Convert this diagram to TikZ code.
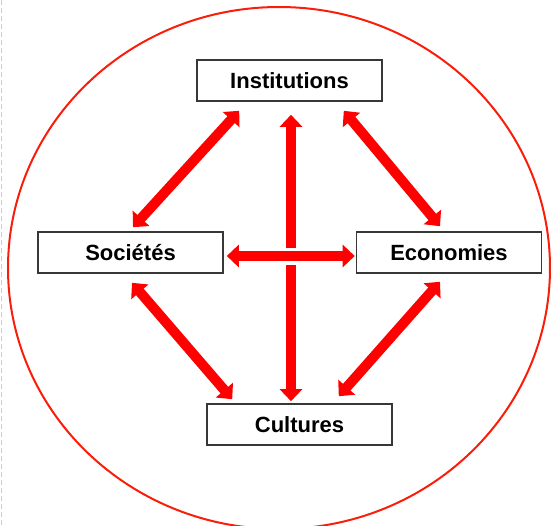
\documentclass[tikz,border=0pt]{standalone}
\usepackage{fontspec}
\setmainfont{Liberation Sans}
\usetikzlibrary{calc,arrows.meta}
\definecolor{ring}{RGB}{250,30,10}
\definecolor{frame}{RGB}{55,55,55}

\begin{document}
\begin{tikzpicture}[x=0.5pt,y=-0.5pt, bx/.style={draw=frame, line width=0.8pt, minimum width=92.5pt, minimum height=20.5pt, inner sep=0pt, font=\fontsize{11}{13}\selectfont\bfseries}, arw/.style={draw=red, line width=5pt, {Triangle[width=11pt,length=6pt]}-{Triangle[width=11pt,length=6pt]}}]
\useasboundingbox (0,0) rectangle (554,526);
\draw[gray!40, line width=0.5pt, dash pattern=on 2.5pt off 1.5pt] (2,0) -- (2,526);
\draw[ring, line width=1pt] (279,268) ellipse [x radius=271, y radius=261];
% the four boxes
\node[bx] (inst) at (289.5,80.5) {Institutions};
\node[bx] (soc) at (130.5,252.5) {Sociétés};
\node[bx] (eco) at (449,252.5) {Economies};
\node[bx] (cult) at (299.5,424.5) {Cultures};
% arrows
\draw[arw] ($(inst.south)+(1.5,13)$) -- ($(cult.north)+(-8.5,-2)$);
\draw[arw, preaction={draw=white, line width=8.5pt, -, shorten <=25pt, shorten >=25pt}] ($(soc.east)+(3,3.5)$) -- ($(eco.west)+(-1,3.5)$);
\draw[arw] ($(soc.north)+(2.5,-4)$) -- ($(inst.south west)+(43,9)$);
\draw[arw] ($(inst.south east)+(-39,9)$) -- ($(eco.north)+(-9,-5)$);
\draw[arw] ($(soc.south)+(1.5,9)$) -- ($(cult.north west)+(26,-4)$);
\draw[arw] ($(eco.south)+(-9,8)$) -- ($(cult.north east)+(-54,-7)$);
\end{tikzpicture}
\end{document}
